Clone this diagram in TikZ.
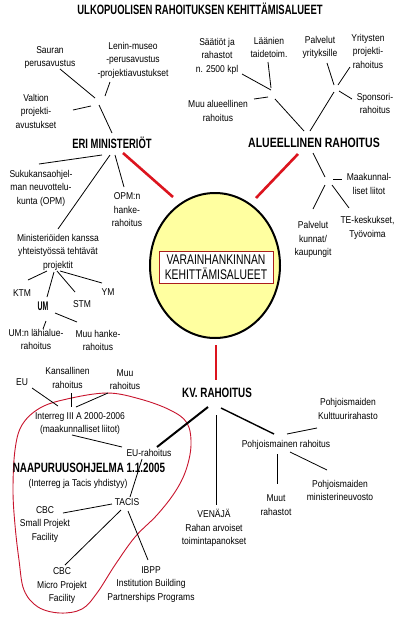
\documentclass[tikz,border=0pt]{standalone}
\usepackage{fontspec}
\setmainfont{Liberation Sans}[FakeStretch=0.86]
\newfontfamily\hdfont{Liberation Sans}
\usetikzlibrary{shapes.geometric}
\definecolor{redln}{RGB}{220,20,30}
\definecolor{ellfill}{RGB}{255,255,160}
\definecolor{boxred}{RGB}{170,30,30}
\definecolor{curvecol}{RGB}{200,20,45}
\newcommand\sxb[2]{\scalebox{#1}[1]{#2}}
\begin{document}
\begin{tikzpicture}[x=1pt,y=-1pt,
 txt/.style={font=\fontsize{9.9}{13.5}\selectfont, align=center, inner sep=0pt},
 hd/.style={font=\hdfont\bfseries\fontsize{13.5}{14}\selectfont, inner sep=0pt},
 ln/.style={line width=0.8pt},
 rl/.style={line width=2.6pt, draw=redln},
]
\useasboundingbox (0,0) rectangle (419,619);
\fill[white] (0,0) rectangle (419,619);

% red outline
\draw[curvecol, line width=0.9pt] plot[smooth cycle, tension=0.6] coordinates {
 (13,490) (15,450) (22,425) (40,408) (67,399) (107,393) (140,399) (170,410)
 (187,423) (191,445) (186,470) (175,492) (157,515) (135,537) (115,565)
 (97,593) (82,609) (60,613) (38,607) (24,590) (19,560) (15,525)};

% central ellipse
\node (ell) [draw, line width=2pt, fill=ellfill, ellipse, minimum width=130, minimum height=145, inner sep=0pt] at (215,265.5) {};
\node (box) [draw=boxred, line width=0.8pt, fill=white, minimum width=114, minimum height=32, inner sep=0pt,
  align=center, font=\hdfont\fontsize{14}{15}\selectfont] at (216,267)
  {\sxb{0.74}{VARAINHANKINNAN}\\\sxb{0.74}{KEHITTÄMISALUEET}};

% texts
\node (title) [hd] at (200,9) {\sxb{0.7}{ULKOPUOLISEN RAHOITUKSEN KEHITTÄMISALUEET}};
\node (sauran) [txt] at (50,57.5) {Sauran\\perusavustus};
\node (lenin) [txt] at (133,60) {Lenin-museo\\-perusavustus\\-projektiavustukset};
\node (valtion) [txt] at (36,111) {Valtion\\projekti-\\avustukset};
\node (eri) [hd] at (112,143) {\sxb{0.7}{ERI MINISTERIÖT}};
\node (saatiot) [txt] at (217,56) {Säätiöt ja\\rahastot\\n. 2500 kpl};
\node (laanien) [txt] at (269,47.5) {Läänien\\taidetoim.};
\node (palvelut) [txt] at (320,47.5) {Palvelut\\yrityksille};
\node (yritysten) [txt] at (368,51) {Yritysten\\projekti-\\rahoitus};
\node (sponsori) [txt] at (375,103.5) {Sponsori-\\rahoitus};
\node (muualue) [txt] at (218,111) {Muu alueellinen\\rahoitus};
\node (alue) [hd] at (314,143) {\sxb{0.78}{ALUEELLINEN RAHOITUS}};
\node (suku) [txt] at (41,188) {Sukukansaohjel-\\man neuvottelu-\\kunta (OPM)};
\node (opm) [txt] at (127,210) {OPM:n\\hanke-\\rahoitus};
\node (minist) [txt] at (58,252) {Ministeriöiden kanssa\\yhteistyössä tehtävät\\projektit};
\node (ktm) [txt] at (22,293) {KTM};
\node (um) [hd, font=\hdfont\bfseries\fontsize{12.5}{13}\selectfont] at (43,306) {\sxb{0.55}{UM}};
\node (stm) [txt] at (82,304) {STM};
\node (ym) [txt] at (108,292) {YM};
\node (umn) [txt] at (36,339.5) {UM:n lähialue-\\rahoitus};
\node (muuhanke) [txt] at (98,340.5) {Muu hanke-\\rahoitus};
\node (maak) [txt] at (369,184) {Maakunnal-\\liset liitot};
\node (palkunnat) [txt] at (313,239.5) {Palvelut\\kunnat/\\kaupungit};
\node (te) [txt] at (367.5,228) {TE-keskukset,\\Työvoima};
\node (kv) [hd] at (217,393) {\sxb{0.73}{KV. RAHOITUS}};
\node (pohj) [txt] at (286,445) {Pohjoismainen rahoitus};
\node (kult) [txt] at (348,409) {Pohjoismaiden\\Kulttuurirahasto};
\node (muut) [txt] at (276,505) {Muut\\rahastot};
\node (pmin) [txt] at (340,490.5) {Pohjoismaiden\\ministerineuvosto};
\node (venaja) [txt] at (214,528) {VENÄJÄ\\Rahan arvoiset\\toimintapanokset};
\node (kans) [txt] at (67.5,378) {Kansallinen\\rahoitus};
\node (muurah) [txt] at (125,379.5) {Muu\\rahoitus};
\node (eu) [txt] at (22,382) {EU};
\node (interreg) [txt] at (80,423.5) {Interreg III A 2000-2006\\(maakunnalliset liitot)};
\node (eurah) [txt] at (149,453) {EU-rahoitus};
\node (naap) [hd] at (89,468) {\sxb{0.73}{NAAPURUUSOHJELMA 1.1.2005}};
\node (yhd) [txt] at (78,484) {(Interreg ja Tacis yhdistyy)};
\node (tacis) [txt] at (127,502) {TACIS};
\node (cbcs) [txt] at (45,524.5) {CBC\\Small Projekt\\Facility};
\node (cbcm) [txt] at (62,586) {CBC\\Micro Projekt\\Facility};
\node (ibpp) [txt] at (151,584.5) {IBPP\\Institution Building\\Partnerships Programs};

% connector end points
\coordinate (sau1) at (60,69);   \coordinate (sau2) at (95,98);
\coordinate (len1) at (110,82);  \coordinate (len2) at (105,96);
\coordinate (val1) at (73,110);  \coordinate (val2) at (91,106);
\coordinate (eri1) at (99,105);  \coordinate (eri2) at (112,133);
\coordinate (saa1) at (242,74);  \coordinate (saa2) at (271,90);
\coordinate (laa1) at (268,62);  \coordinate (laa2) at (271,88);
\coordinate (mua1) at (254,99);  \coordinate (mua2) at (268,97);
\coordinate (alA1) at (275,99);  \coordinate (alA2) at (304,131);
\coordinate (pal1) at (327,63);  \coordinate (pal2) at (334,85);
\coordinate (yri1) at (350,67);  \coordinate (yri2) at (338,85);
\coordinate (spo1) at (339,91);  \coordinate (spo2) at (352,99);
\coordinate (alB1) at (334,92);  \coordinate (alB2) at (310,131);
\coordinate (rE1) at (123,153);  \coordinate (rE2) at (173,197);
\coordinate (rA1) at (298,154);  \coordinate (rA2) at (256,198);
\coordinate (rK1) at (216,345);  \coordinate (rK2) at (216,380);
\coordinate (suk1) at (102,155); \coordinate (suk2) at (39,164);
\coordinate (min1) at (110,155); \coordinate (min2) at (58,229);
\coordinate (opm1) at (115,155); \coordinate (opm2) at (124,187);
\coordinate (ktm1) at (47,271);  \coordinate (ktm2) at (28,280);
\coordinate (um1) at (54,272);   \coordinate (um2) at (47,297);
\coordinate (stm1) at (57,271);  \coordinate (stm2) at (75,292);
\coordinate (ym1) at (60,271);   \coordinate (ym2) at (102,283);
\coordinate (umn1) at (46,321);  \coordinate (umn2) at (43,329);
\coordinate (muh1) at (55,313);  \coordinate (muh2) at (77,322);
\coordinate (alC1) at (313,153); \coordinate (alC2) at (325,177);
\coordinate (maa1) at (333,179); \coordinate (maa2) at (342,179);
\coordinate (pku1) at (325,185); \coordinate (pku2) at (313,209);
\coordinate (te1) at (332,185);  \coordinate (te2) at (349,208);
\coordinate (kvE1) at (208,407); \coordinate (kvE2) at (157,447);
\coordinate (ven1) at (216,415); \coordinate (ven2) at (216,505);
\coordinate (kvP1) at (221,408); \coordinate (kvP2) at (274,434);
\coordinate (kul1) at (287,434); \coordinate (kul2) at (317,428);
\coordinate (mut1) at (277,454); \coordinate (mut2) at (277,484);
\coordinate (pmi1) at (290,452); \coordinate (pmi2) at (327,470);
\coordinate (eu1) at (32,388);   \coordinate (eu2) at (58,406);
\coordinate (kan1) at (71,393);  \coordinate (kan2) at (71,407);
\coordinate (mur1) at (108,393); \coordinate (mur2) at (76,407);
\coordinate (int1) at (72,435);  \coordinate (int2) at (122,447);
\coordinate (eur1) at (142,459); \coordinate (eur2) at (130,497);
\coordinate (cbs1) at (112,504); \coordinate (cbs2) at (63,513);
\coordinate (cbm1) at (121,510); \coordinate (cbm2) at (65,565);
\coordinate (ibp1) at (128,511); \coordinate (ibp2) at (148,560);

% thin connectors
\foreach \a in {sau,len,val,eri,saa,laa,mua,alA,pal,yri,spo,alB,suk,min,opm,ktm,um,stm,ym,umn,muh,alC,maa,pku,te,ven,kul,mut,pmi,eu,kan,mur,int,eur,cbs,cbm,ibp}
  \draw[ln] (\a1) -- (\a2);
% heavier connectors
\draw[line width=2pt] (kvE1) -- (kvE2);
\draw[line width=1.4pt] (kvP1) -- (kvP2);
% red connectors
\draw[rl] (rE1) -- (rE2);
\draw[rl] (rA1) -- (rA2);
\draw[rl] (rK1) -- (rK2);
\end{tikzpicture}
\end{document}
